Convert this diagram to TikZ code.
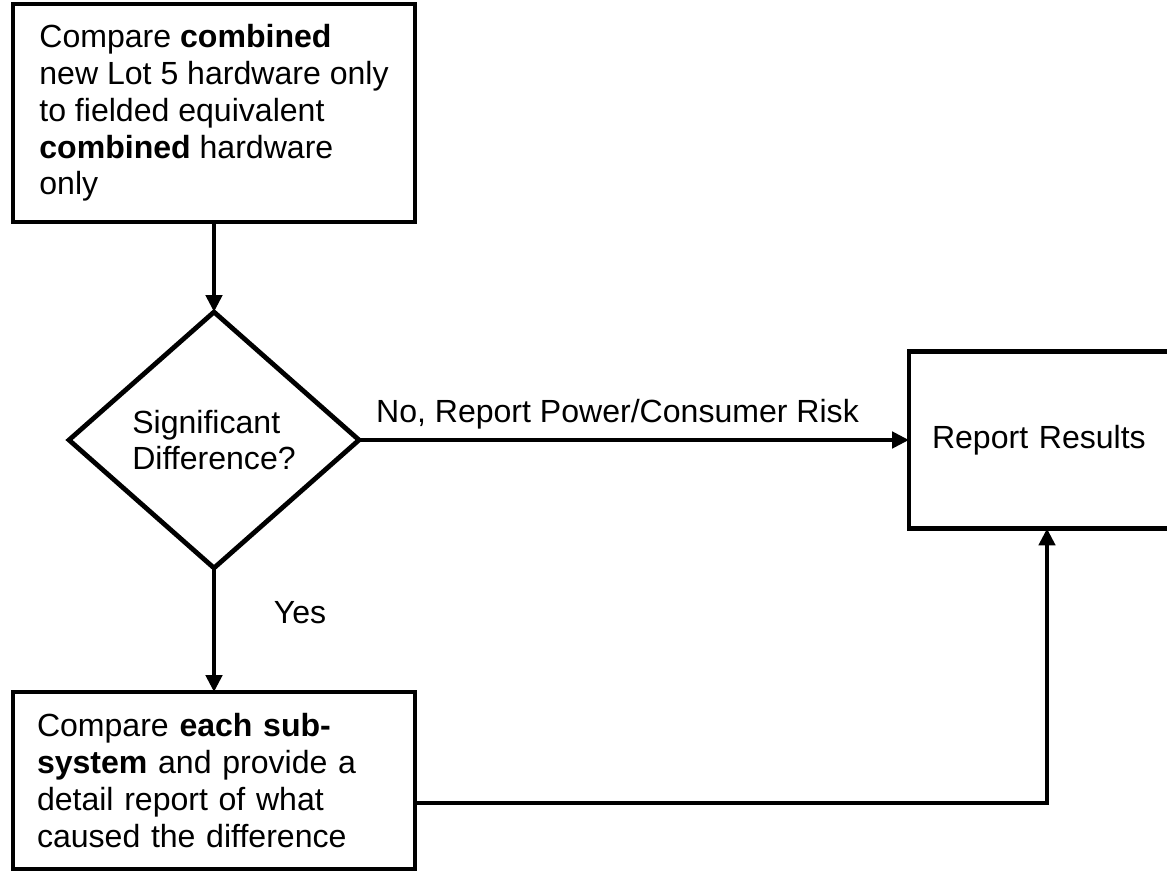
\documentclass[tikz,border=0pt]{standalone}
\usepackage{fontspec}
\setmainfont{Liberation Sans}
\usetikzlibrary{arrows.meta, positioning, calc, shapes.geometric}

\begin{document}
\begin{tikzpicture}[
    % Node styles
    box/.style={
        rectangle, draw=black, line width=3.4pt, outer sep=0pt,
        minimum width=10.05cm, minimum height=#1, align=left,
        font=\fontsize{22.8}{26.2}\selectfont
    },
    box/.default=5.45cm,
    decision/.style={
        diamond, draw=black, line width=3.4pt, outer sep=0pt, inner sep=0pt,
        minimum width=7.25cm, minimum height=6.4cm, align=left,
        font=\fontsize{22.8}{26.2}\selectfont
    },
    arr/.style={
        -{Triangle[length=0.42cm, width=0.4cm]}, line width=3.3pt, color=black
    },
    note/.style={font=\fontsize{22.8}{26.2}\selectfont, anchor=base},
]

% page size of the reference
\useasboundingbox (0,0) rectangle (29.175,-21.8);

% ═══════════════════════════════════════════════════════════════
% Left column: compare, decide, break down
% ═══════════════════════════════════════════════════════════════

\node[box] (cmp) at (5.35,-2.825) {
    Compare \textbf{combined}\\
    new Lot 5 hardware only\\
    to fielded equivalent\\
    \textbf{combined} hardware\\
    only
};

\node[decision, below=2.25cm of cmp] (dec) {
    Significant\\Difference?
};

\node[box=4.425cm, inner xsep=0.6cm, text width=8.85cm, below=3.1cm of dec] (sub) {
    Compare \textbf{each sub-}\\
    \textbf{system} and provide a\\
    detail report of what\\
    caused the difference
};

% ═══════════════════════════════════════════════════════════════
% Right: results
% ═══════════════════════════════════════════════════════════════

\node[box=4.425cm, minimum width=6.875cm, inner xsep=0.575cm,
      text width=5.725cm, right=13.75cm of dec] (report) {Report Results};

% Arrows
\draw[arr] (cmp) -- (dec);
\draw[arr] (dec) -- (sub);
\draw[arr] (dec) -- (report);

\coordinate (bend) at (26.175,-20.075);
\draw[arr] (sub.east |- bend) -| (report.south -| bend);

% Branch labels
\node[note] (nolbl) at ($(dec.east)!0.47!(report.west) + (0,0.45cm)$) {No, Report Power/Consumer Risk};
\node[note] (yeslbl) at ($(dec.south) + (2.15cm,-1.375cm)$) {Yes};

\end{tikzpicture}
\end{document}
